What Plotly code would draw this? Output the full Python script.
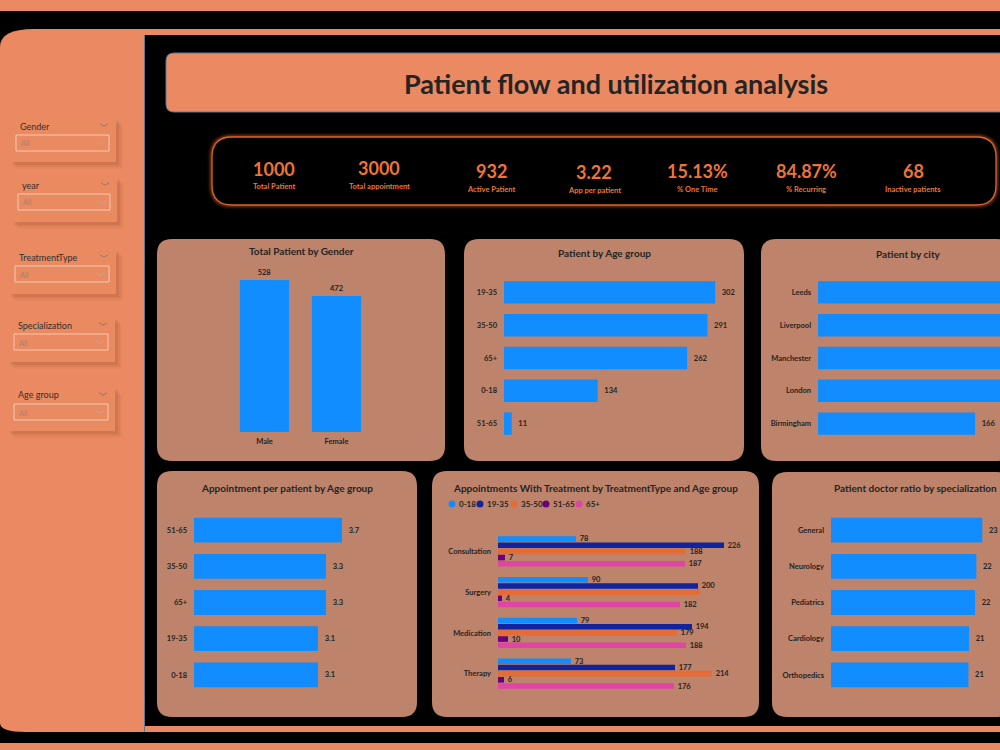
import plotly.graph_objects as go

# ---------------- data ----------------
gender_cats = ["Male", "Female"]
gender_vals = [528, 472]

age_cats = ["19-35", "35-50", "65+", "0-18", "51-65"]
age_vals = [302, 291, 262, 134, 11]

city_cats = ["Leeds", "Liverpool", "Manchester", "London", "Birmingham"]
city_vals = [215, 212, 205, 202, 166]

appt_cats = ["51-65", "35-50", "65+", "19-35", "0-18"]
appt_vals = [3.7, 3.3, 3.3, 3.1, 3.1]

treat_types = ["Consultation", "Surgery", "Medication", "Therapy"]
treat_groups = ["0-18", "19-35", "35-50", "51-65", "65+"]
treat_0_18 = [78, 90, 79, 73]
treat_19_35 = [226, 200, 194, 177]
treat_35_50 = [188, 202, 179, 214]
treat_51_65 = [7, 4, 10, 6]
treat_65p = [187, 182, 188, 176]
treat_hidden_labels = [("Surgery", "35-50")]

spec_cats = ["General", "Neurology", "Pediatrics", "Cardiology", "Orthopedics"]
spec_vals = [23.0, 22.1, 21.9, 21.0, 20.9]

kpi_values = ["1000", "3000", "932", "3.22", "15.13%", "84.87%", "68"]
kpi_labels = ["Total Patient", "Total appointment", "Active Patient", "App per patient",
              "% One Time", "% Recurring", "Inactive patients"]

slicer_titles = ["Gender", "year", "TreatmentType", "Specialization", "Age group"]
slicer_value = "All"

# ---------------- style ----------------
W, H = 1000, 750
ORANGE = "#EB8A62"
CARD = "#BD836B"
DARK = "#252423"
KPI_C = "#EE7434"
BLUE = "#118DFF"
GROUP_COLORS = ["#118DFF", "#12239E", "#E66C37", "#6B007B", "#E044A7"]
FONT = "Lato"
EDGE = "#5B7896"
PAD = "\u00a0\u00a0"


def X(px):
    return px / W


def Y(py):
    return 1 - py / H


def rr_path(x0, y0, x1, y1, r=None, tl=(0, 0), tr=(0, 0), br=(0, 0), bl=(0, 0)):
    if r is not None:
        tl = tr = br = bl = (r, r)
    p = []
    p.append(f"M {X(x0 + tl[0])},{Y(y0)}")
    p.append(f"L {X(x1 - tr[0])},{Y(y0)}")
    p.append(f"Q {X(x1)},{Y(y0)} {X(x1)},{Y(y0 + tr[1])}")
    p.append(f"L {X(x1)},{Y(y1 - br[1])}")
    p.append(f"Q {X(x1)},{Y(y1)} {X(x1 - br[0])},{Y(y1)}")
    p.append(f"L {X(x0 + bl[0])},{Y(y1)}")
    p.append(f"Q {X(x0)},{Y(y1)} {X(x0)},{Y(y1 - bl[1])}")
    p.append(f"L {X(x0)},{Y(y0 + tl[1])}")
    p.append(f"Q {X(x0)},{Y(y0)} {X(x0 + tl[0])},{Y(y0)}")
    p.append("Z")
    return " ".join(p)


shapes = []
annotations = []


def add_rect(x0, y0, x1, y1, fill, line_color=None, line_width=0):
    shapes.append(dict(type="rect", xref="paper", yref="paper", x0=X(x0), x1=X(x1),
                       y0=Y(y1), y1=Y(y0), fillcolor=fill,
                       line=dict(color=line_color or fill, width=line_width), layer="below"))


def add_path(path, fill, line_color=None, line_width=0):
    shapes.append(dict(type="path", xref="paper", yref="paper", path=path,
                       fillcolor=fill, line=dict(color=line_color or "rgba(0,0,0,0)", width=line_width),
                       layer="below"))


def add_text(x, y, text, size, color=DARK, xanchor="center", bold=True, yanchor="middle"):
    annotations.append(dict(xref="paper", yref="paper", x=X(x), y=Y(y),
                            text=f"<b>{text}</b>" if bold else text, showarrow=False,
                            xanchor=xanchor, yanchor=yanchor,
                            font=dict(family=FONT, size=size, color=color)))


def chevron(cx, cy, color, w=4, h=2.5):
    path = f"M {X(cx - w)},{Y(cy - h / 2)} L {X(cx)},{Y(cy + h / 2)} L {X(cx + w)},{Y(cy - h / 2)}"
    shapes.append(dict(type="path", xref="paper", yref="paper", path=path,
                       line=dict(color=color, width=1), layer="below"))


# ---------------- page background ----------------
add_rect(0, 0, 1000, 11, ORANGE)
add_rect(144, 29, 1000, 35, ORANGE)
add_rect(60, 726, 1000, 732, ORANGE)
add_rect(0, 743, 1000, 750, ORANGE)
add_path(rr_path(0, 29, 145, 732, tl=(34, 18), bl=(26, 9)), ORANGE)
shapes.append(dict(type="line", xref="paper", yref="paper", x0=X(144.5), x1=X(144.5),
                   y0=Y(732), y1=Y(35), line=dict(color=EDGE, width=1), layer="below"))

# title bar
add_path(rr_path(166, 53, 1010, 112, r=8), ORANGE, EDGE, 1)
add_text(616, 83, "Patient flow and utilization analysis", 27)

# KPI box with glow
for w_, a_ in [(9, 0.08), (6, 0.14), (3.5, 0.25)]:
    add_path(rr_path(212, 137, 996, 205, r=20), "rgba(0,0,0,0)", f"rgba(232,105,45,{a_})", w_)
add_path(rr_path(212, 137, 996, 205, r=20), "#000000", "#D9662C", 1.3)
kpi_x = [274, 379, 491, 594, 697, 806, 913]
kpi_vy = [169, 168, 171, 172, 171, 171, 171]
kpi_ly = [187, 186, 189, 190, 189, 189, 189]
for xv, yv, yl, v, lab in zip(kpi_x, kpi_vy, kpi_ly, kpi_values, kpi_labels):
    add_text(xv, yv, v, 18, KPI_C)
    add_text(xv, yl, lab, 7.5, KPI_C)

# slicers
slicer_boxes = [(11, 118, 116, 162), (13, 177, 117, 222), (10, 249, 116, 294),
                (9, 317, 115, 362), (9, 387, 115, 431)]
for (x0, y0, x1, y1), t in zip(slicer_boxes, slicer_titles):
    for d, a in [(7, 0.05), (5, 0.08), (3, 0.12)]:
        add_rect(x0 + d - 2, y0 + d, x1 + d, y1 + d, f"rgba(120,55,25,{a})")
    add_rect(x0, y0, x1, y1, "#E98A61")
    add_text(x0 + 7, y0 + 8, t, 9, "#33302E", xanchor="left", bold=False)
    chevron(x1 - 12, y0 + 7, "#9A7566")
    add_rect(x0 + 5, y0 + 17, x1 - 7, y0 + 33, "rgba(0,0,0,0)", "#F4C9B4", 1)
    add_text(x0 + 8, y0 + 26, slicer_value, 7.5, "#A8826F", xanchor="left", bold=False)
    chevron(x1 - 15, y0 + 25, "#C9A291")

# cards
cards = [(157, 239, 445, 461), (464, 239, 744, 461), (761, 239, 1012, 461),
         (157, 471, 417, 717), (432, 471, 759, 717), (772, 472, 1012, 717)]
for c in cards:
    add_path(rr_path(*c, r=15), CARD)

card_titles = [
    (301, 251, "Total Patient by Gender"),
    (604, 253, "Patient by Age group"),
    (908, 254, "Patient by city"),
    (287, 488, "Appointment per patient by Age group"),
    (595, 488, "Appointments With Treatment by TreatmentType and Age group"),
    (915, 488, "Patient doctor ratio by specialization"),
]
for x_, y_, t in card_titles:
    add_text(x_, y_, t, 10, DARK)

# legend for treatment chart
legend_x = [452, 480, 514, 546, 579]
for lx, g, col in zip(legend_x, treat_groups, GROUP_COLORS):
    shapes.append(dict(type="circle", xref="paper", yref="paper",
                       x0=X(lx - 3.5), x1=X(lx + 3.5), y0=Y(504 + 3.5), y1=Y(504 - 3.5),
                       fillcolor=col, line=dict(width=0), layer="above"))
    add_text(lx + 4.5, 504, g, 8, DARK, xanchor="left", bold=True)

# ---------------- charts ----------------
fig = go.Figure()
tickfont = dict(family=FONT, size=7.5, color=DARK, weight="bold")
textfont = dict(family=FONT, size=7.5, color=DARK, weight="bold")
noline = dict(width=0)


def dom_x(a, b):
    return [X(a), X(b)]


def dom_y(top, bottom):
    return [Y(bottom), Y(top)]


# 1 gender (vertical)
fig.add_trace(go.Bar(x=gender_cats, y=gender_vals, marker=dict(color=BLUE, line=noline),
                     text=gender_vals,
                     textposition="outside", textfont=textfont, cliponaxis=False,
                     constraintext="none", xaxis="x", yaxis="y", showlegend=False))
# 2 age group
fig.add_trace(go.Bar(y=age_cats, x=age_vals, orientation="h", marker=dict(color=BLUE, line=noline),
                     text=[str(v) for v in age_vals], texttemplate=PAD + "%{text}",
                     textposition="outside", textfont=textfont, cliponaxis=False,
                     constraintext="none", xaxis="x2", yaxis="y2", showlegend=False))
# 3 city
city_range = 192.4
city_text = [str(v) if v < city_range * 0.9 else "" for v in city_vals]
fig.add_trace(go.Bar(y=city_cats, x=city_vals, orientation="h", marker=dict(color=BLUE, line=noline),
                     text=city_text, texttemplate=PAD + "%{text}",
                     textposition="outside", textfont=textfont, cliponaxis=True,
                     constraintext="none", xaxis="x3", yaxis="y3", showlegend=False))
# 4 appointments per patient
fig.add_trace(go.Bar(y=appt_cats, x=appt_vals, orientation="h", marker=dict(color=BLUE, line=noline),
                     text=[f"{v:.1f}" for v in appt_vals], texttemplate=PAD + "%{text}",
                     textposition="outside", textfont=textfont, cliponaxis=False,
                     constraintext="none", xaxis="x4", yaxis="y4", showlegend=False))
# 5 treatment grouped
treat_series = [treat_0_18, treat_19_35, treat_35_50, treat_51_65, treat_65p]
for g, vals, col in zip(treat_groups, treat_series, GROUP_COLORS):
    txt = ["" if (t, g) in treat_hidden_labels else str(v) for t, v in zip(treat_types, vals)]
    fig.add_trace(go.Bar(y=treat_types, x=vals, orientation="h", name=g,
                         marker=dict(color=col, line=noline),
                         text=txt, texttemplate=PAD + "%{text}",
                         textposition="outside", textfont=textfont, cliponaxis=False,
                         constraintext="none", xaxis="x5", yaxis="y5", showlegend=False))
# 6 specialization
fig.add_trace(go.Bar(y=spec_cats, x=spec_vals, orientation="h", marker=dict(color=BLUE, line=noline),
                     texttemplate=PAD + "%{x:.0f}", textposition="outside", textfont=textfont,
                     cliponaxis=False, constraintext="none", xaxis="x6", yaxis="y6",
                     showlegend=False))

hidden = dict(showgrid=False, zeroline=False, showticklabels=False, showline=False, ticks="")
cat_axis = dict(showgrid=False, zeroline=False, showline=False, ticks="", tickfont=tickfont,
                fixedrange=True)

layout = dict(
    width=W, height=H, margin=dict(l=0, r=0, t=0, b=0),
    paper_bgcolor="#000000", plot_bgcolor="rgba(0,0,0,0)",
    barmode="group", bargap=0.24, bargroupgap=0.1,
    font=dict(family=FONT, color=DARK),
    shapes=shapes, annotations=annotations, showlegend=False,
    # gender
    xaxis=dict(domain=dom_x(228.5, 372.5), anchor="y", ticklabelstandoff=3, **cat_axis),
    yaxis=dict(domain=dom_y(258, 432), anchor="x", range=[0, 604], **hidden),
    # age
    xaxis2=dict(domain=dom_x(504, 740), anchor="y2", range=[0, 337.6], **hidden),
    yaxis2=dict(domain=dom_y(276, 440), anchor="x2", autorange="reversed",
                ticklabelstandoff=6, **cat_axis),
    # city
    xaxis3=dict(domain=dom_x(818, 1000), anchor="y3", range=[0, city_range], **hidden),
    yaxis3=dict(domain=dom_y(276, 440), anchor="x3", autorange="reversed",
                ticklabelstandoff=6, **cat_axis),
    # appt
    xaxis4=dict(domain=dom_x(194, 400), anchor="y4", range=[0, 5.15], **hidden),
    yaxis4=dict(domain=dom_y(512, 693), anchor="x4", autorange="reversed",
                ticklabelstandoff=6, **cat_axis),
    # treatment
    xaxis5=dict(domain=dom_x(498, 750), anchor="y5", range=[0, 252], **hidden),
    yaxis5=dict(domain=dom_y(531, 694), anchor="x5", autorange="reversed",
                ticklabelstandoff=6, **cat_axis),
    # specialization
    xaxis6=dict(domain=dom_x(831, 1000), anchor="y6", range=[0, 25.7], **hidden),
    yaxis6=dict(domain=dom_y(512, 693), anchor="x6", autorange="reversed",
                ticklabelstandoff=6, **cat_axis),
)
fig.update_layout(**layout)

fig.write_html("out.html", config=dict(displayModeBar=False))
